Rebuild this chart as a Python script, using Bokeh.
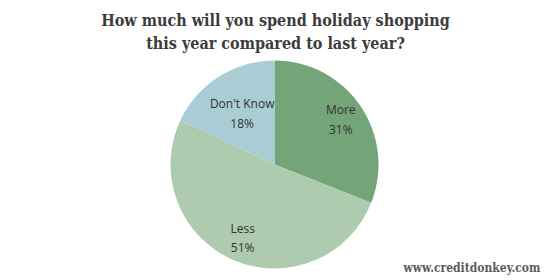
import math
from bokeh.plotting import figure
from bokeh.models import ColumnDataSource, Range1d, Label
from bokeh.embed import file_html
from bokeh.resources import INLINE
from bokeh.core.properties import value

categories = ["More", "Less", "Don't Know"]
shares = [31, 51, 18]
colors = ["#74a578", "#aecbaf", "#a9ccd5"]
title_lines = ["How much will you spend holiday shopping", "this year compared to last year?"]
watermark = "www.creditdonkey.com"

W, H = 550, 280
p = figure(width=W, height=H, output_backend="svg", toolbar_location=None,
           x_range=Range1d(0, W), y_range=Range1d(0, H), min_border=0)
p.axis.visible = False
p.grid.visible = False
p.outline_line_color = None
p.background_fill_color = "white"
p.border_fill_color = "white"

cx, cy, R = 274, 280 - 164, 104
total = sum(shares)
starts, ends, lx, ly, texts = [], [], [], [], []
label_r = [0.77, 0.77, 0.58]
acc = 0
for i, s in enumerate(shares):
    a0 = math.pi / 2 - 2 * math.pi * acc / total
    a1 = math.pi / 2 - 2 * math.pi * (acc + s) / total
    starts.append(a1)
    ends.append(a0)
    mid = (a0 + a1) / 2
    lx.append(cx + label_r[i] * R * math.cos(mid))
    ly.append(cy + label_r[i] * R * math.sin(mid))
    texts.append(f"{categories[i]}\n{s}%")
    acc += s

src = ColumnDataSource(dict(start=starts, end=ends, color=colors, lx=lx, ly=ly, t=texts))
p.wedge(x=cx, y=cy, radius=R, start_angle="start", end_angle="end",
        fill_color="color", line_color=None, source=src)
p.text(x="lx", y="ly", text="t", source=src, text_align="center", text_baseline="middle",
       text_font=value("Open Sans"), text_font_size="12px", text_color="#333333",
       text_line_height=1.15)

for i, line in enumerate(title_lines):
    p.add_layout(Label(x=275, y=H - 20 - 23 * i, text=line, text_align="center",
                       text_baseline="middle", text_font="DejaVu Serif Condensed",
                       text_font_style="bold", text_font_size="16px", text_color="#3c3c3c"))

p.add_layout(Label(x=540, y=H - 267, text=watermark, text_align="right",
                   text_baseline="middle", text_font="DejaVu Serif Condensed",
                   text_font_style="bold", text_font_size="12px", text_color="#5a5a5a"))

open("out.html", "w").write(file_html(p, INLINE))
